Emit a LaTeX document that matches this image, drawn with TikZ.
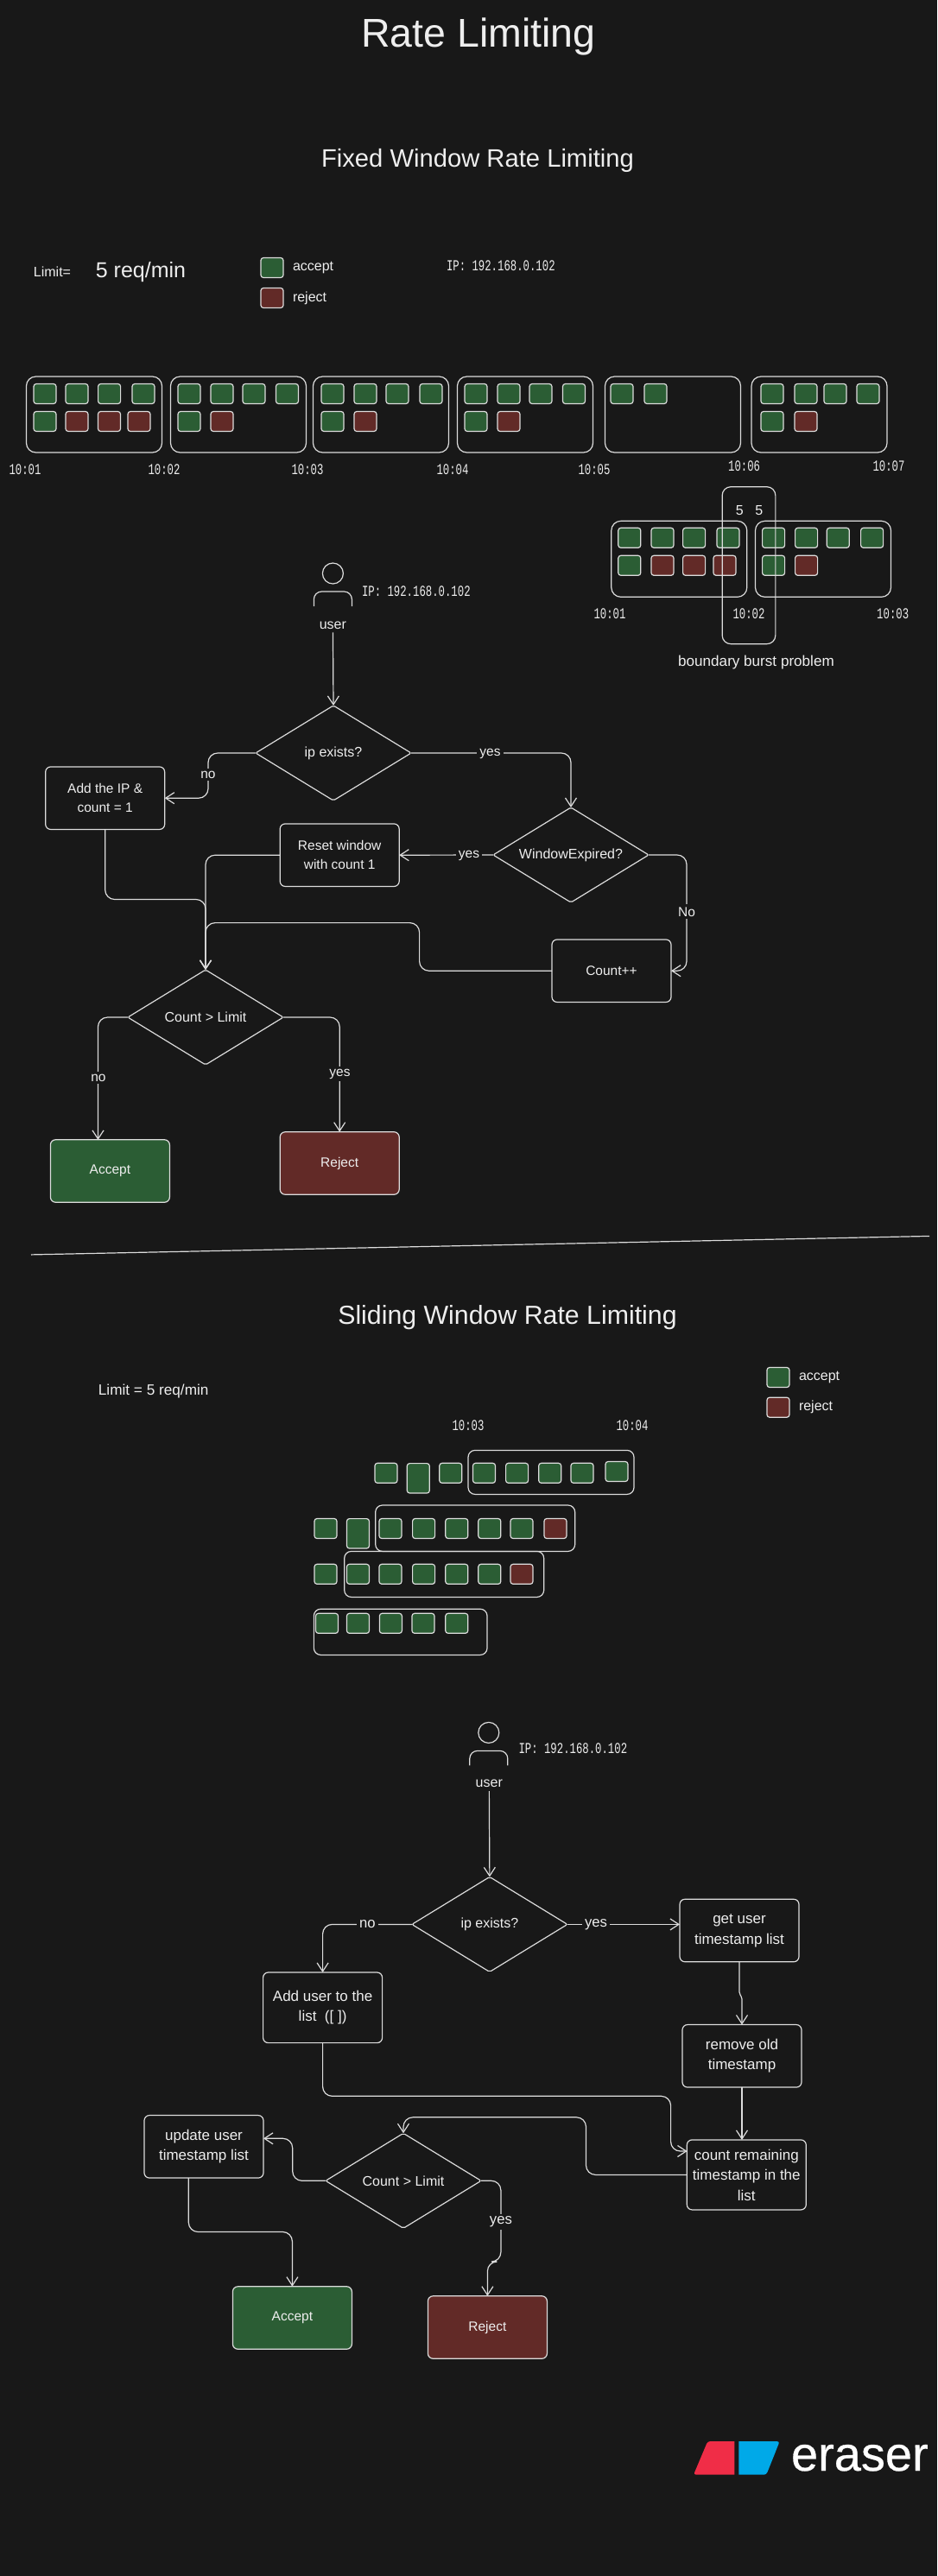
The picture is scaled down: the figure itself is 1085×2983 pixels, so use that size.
\documentclass[tikz,border=0pt]{standalone}
\usepackage{fontspec}
\setmainfont{Liberation Sans}
\newfontfamily\timefont[FakeStretch=0.7]{Liberation Mono}
\newfontfamily\logofont[FakeBold=0.5]{Liberation Sans}
\usetikzlibrary{shapes.geometric, arrows.meta, positioning}
\definecolor{bgdark}{HTML}{181818}
\definecolor{lineclr}{HTML}{DCDCDC}
\definecolor{textclr}{HTML}{EEEEEE}
\definecolor{okgreen}{HTML}{2B5D34}
\definecolor{nored}{HTML}{622A27}
\definecolor{logored}{HTML}{F02D47}
\definecolor{logoblue}{HTML}{00A9E8}

\begin{document}
\begin{tikzpicture}[
    x=1pt, y=-1pt,
    line width=1.2pt,
    every node/.style={text=textclr, inner sep=0pt, outer sep=0pt},
    reqbox/.style={rectangle, draw=lineclr, minimum width=26pt, minimum height=23pt, rounded corners=3pt},
    reqok/.style={reqbox, fill=okgreen},
    reqno/.style={reqbox, fill=nored},
    frame/.style={rectangle, draw=lineclr, rounded corners=11pt, minimum width=157pt, minimum height=88pt},
    slidebox/.style={rectangle, draw=lineclr, rounded corners=8pt},
    flowbox/.style={rectangle, draw=lineclr, rounded corners=6pt, align=center, minimum width=138pt, minimum height=72.5pt, font=\fontsize{15.5}{22}\selectfont},
    bigbox/.style={flowbox, font=\fontsize{17}{23.5}\selectfont},
    choice/.style={diamond, draw=lineclr, rounded corners=2pt, aspect=1.6, minimum width=180pt, minimum height=110pt, font=\fontsize{16}{20}\selectfont},
    arrow/.style={draw=lineclr, rounded corners=11pt, -{Straight Barb[length=10pt,width=13pt]}},
    edgetext/.style={fill=bgdark, inner sep=3pt, font=\fontsize{15.5}{18}\selectfont},
    bigtext/.style={edgetext, font=\fontsize{16.7}{18}\selectfont},
    plain/.style={font=\fontsize{16}{20}\selectfont},
    timetext/.style={font=\timefont\fontsize{17.6}{20}\selectfont},
    personicon/.pic={
        \node[circle, draw=lineclr, minimum size=24pt] (head) at (0,0) {};
        \draw[lineclr, rounded corners=9pt] (-22,38) -- (-22,21) -- (22,21) -- (22,38);
    }
]
\fill[bgdark] (0,0) rectangle (1085,2983);
\useasboundingbox (0,0) rectangle (1085,2983);

% Headings
\node[font=\fontsize{46.5}{50}\selectfont] (title) at (554,42) {Rate Limiting};
\node[font=\fontsize{29.2}{32}\selectfont] (fixedhead) at (553,186) {Fixed Window Rate Limiting};
\node[font=\fontsize{30.3}{32}\selectfont] (slidehead) at (587.5,1526) {Sliding Window Rate Limiting};

% Legend of the fixed window
\node[plain] (limitA) at (60.5,315) {Limit=};
\node[font=\fontsize{25}{28}\selectfont] (limitval) at (163,315.5) {5 req/min};
\node[reqok] (legokA) at (315,310) {};
\node[reqno] (legnoA) at (315,345) {};
\node[plain, right=11pt of legokA] (legoktextA) {accept};
\node[plain, right=11pt of legnoA] (legnotextA) {reject};
\node[timetext, anchor=west] (ipfixed) at (517,308) {IP: 192.168.0.102};

% Fixed windows
\foreach \wx [count=\n] in {109,276,441,608,779,948.5}
    \node[frame] (win\n) at (\wx,480) {};
\foreach \cx [count=\n] in {52,89,126.6,166,219,257,294,332.5,385,423,460,499,551,589,626,664.5,720,759,894,933,967,1005}
    \node[reqok] (top\n) at (\cx,456) {};
\foreach \cx [count=\n] in {52,219,385,551,894}
    \node[reqok] (lowok\n) at (\cx,488) {};
\foreach \cx [count=\n] in {89,126.5,161,257,423,589,933}
    \node[reqno] (lowno\n) at (\cx,488) {};
\foreach \cx/\cy/\tm [count=\n] in {29/543.5/10:01,190/543.5/10:02,356/543.5/10:03,524/543.5/10:04,688/543.5/10:05,861.6/539.6/10:06,1029/539.6/10:07}
    \node[timetext] (tick\n) at (\cx,\cy) {\tm};

% Boundary burst
\node[frame] (burstL) at (786.3,647.3) {};
\node[frame] (burstR) at (953,647.3) {};
\foreach \cx [count=\n] in {728.8,767,803.6,843,895.6,933.6,970.3,1009.6}
    \node[reqok] (bursttop\n) at (\cx,622.8) {};
\foreach \cx/\cc [count=\n] in {728.8/okgreen,767/nored,803.6/nored,839/nored,895.6/okgreen,933.6/nored}
    \node[reqbox, fill=\cc] (burstlow\n) at (\cx,654.8) {};
\node[rectangle, draw=lineclr, rounded corners=10pt, minimum width=61.7pt, minimum height=182pt] (burstmid) at (867,654.7) {};
\node[plain] (burstfive1) at (856.3,591) {5};
\node[plain] (burstfive2) at (878.7,591) {5};
\node[timetext] (bursttick1) at (706,710.7) {10:01};
\node[timetext] (bursttick2) at (867,710.7) {10:02};
\node[timetext] (bursttick3) at (1033.7,710.7) {10:03};
\node[font=\fontsize{17.1}{20}\selectfont] (burstname) at (875.5,767) {boundary burst problem};

% Fixed window flow
\pic (personA) at (385.4,664) {personicon};
\node[plain, inner sep=4pt] (userA) at (385.4,724) {user};
\node[timetext, anchor=west] (ipA) at (419,685) {IP: 192.168.0.102};
\node[choice] (existsA) at (386,872) {ip exists?};
\node[flowbox] (addA) at (121.7,924.2) {Add the IP \&\\count = 1};
\node[choice] (windowA) at (661,990) {WindowExpired?};
\node[flowbox] (resetA) at (393.2,990.2) {Reset window\\with count 1};
\node[flowbox] (countA) at (708,1124.2) {Count++};
\node[choice] (checkA) at (238,1178) {Count > Limit};
\node[flowbox, fill=okgreen] (acceptA) at (127.4,1356) {Accept};
\node[flowbox, fill=nored] (rejectA) at (393.2,1347) {Reject};

\coordinate (noturnA) at (241,924.2);
\coordinate (noturnB) at (795,1124.2);
\coordinate (addturnA) at (121.7,1041.5);
\coordinate (backturnA) at (485.6,1068.6);
\coordinate (accinA) at (113.5,1320);

\draw[arrow] (userA) -- (existsA.north);
\draw[arrow] (existsA.west) -| (noturnA) -- (addA.east);
\draw[arrow] (existsA.east) -| (windowA.north);
\draw[arrow] (windowA.west) -- (resetA.east);
\draw[arrow] (windowA.east) -| (noturnB) -- (countA.east);
\draw[arrow] (resetA.west) -| (checkA.north);
\draw[arrow] (addA.south) -- (addturnA) -| (checkA.north);
\draw[arrow] (countA.west) -| (backturnA) -| (checkA.north);
\draw[arrow] (checkA.west) -| (accinA);
\draw[arrow] (checkA.east) -| (rejectA.north);

\node[edgetext] (noA) at (241,897) {no};
\node[edgetext] (yesA) at (567.5,872.5) {yes};
\node[edgetext] (yesB) at (543,990.5) {yes};
\node[edgetext] (noB) at (795,1055.8) {No};
\node[edgetext] (noC) at (114,1248) {no};
\node[edgetext] (yesC) at (393.5,1243.6) {yes};

% Divider
\coordinate (divL) at (36,1452.9);
\coordinate (divR) at (1076,1431.4);
\draw[lineclr] (divL) -- (divR);

% Legend of the sliding window
\node[font=\fontsize{17.2}{20}\selectfont] (limitB) at (177.7,1611) {Limit = 5 req/min};
\node[reqok] (legokB) at (901,1595) {};
\node[reqno] (legnoB) at (901,1629.7) {};
\node[plain, right=11pt of legokB] (legoktextB) {accept};
\node[plain, right=11pt of legnoB] (legnotextB) {reject};
\node[timetext] (tickB1) at (542,1650.7) {10:03};
\node[timetext] (tickB2) at (732,1650.7) {10:04};

% Sliding windows
\node[slidebox, minimum width=192pt, minimum height=51pt] (slideA) at (638,1704.9) {};
\node[slidebox, minimum width=231pt, minimum height=53.4pt] (slideB) at (550.2,1769.7) {};
\node[slidebox, minimum width=231pt, minimum height=53pt] (slideC) at (514.2,1822.9) {};
\node[slidebox, minimum width=200.7pt, minimum height=53.2pt] (slideD) at (463.7,1889.8) {};
\foreach \cx/\cy/\cc [count=\n] in {447/1705.8/okgreen,521.8/1705.8/okgreen,560.5/1705.8/okgreen,598.6/1705.8/okgreen,636.7/1705.8/okgreen,674/1705.8/okgreen,714/1704/okgreen,
    377/1770/okgreen,452/1770/okgreen,490.6/1770/okgreen,528.8/1770/okgreen,566.8/1770/okgreen,604/1770/okgreen,643/1770/nored,
    377/1822.8/okgreen,414.5/1822.8/okgreen,452/1822.8/okgreen,490.6/1822.8/okgreen,528.8/1822.8/okgreen,566.8/1822.8/okgreen,604/1822.8/nored,
    378.5/1879.8/okgreen,414.5/1879.8/okgreen,452.4/1879.8/okgreen,490/1879.8/okgreen,528.8/1879.8/okgreen}
    \node[reqbox, fill=\cc] (slot\n) at (\cx,\cy) {};
\node[reqok, minimum height=34.4pt] (tallA) at (484.3,1711.8) {};
\node[reqok, minimum height=34.4pt] (tallB) at (414.5,1775.8) {};

% Sliding window flow
\pic (personB) at (565.8,2006.4) {personicon};
\node[plain, inner sep=4pt] (userB) at (566.3,2065.6) {user};
\node[timetext, anchor=west] (ipB) at (600.5,2024.8) {IP: 192.168.0.102};
\node[choice] (existsB) at (566.9,2228.4) {ip exists?};
\node[bigbox] (getB) at (856,2235.5) {get user\\timestamp list};
\node[bigbox, minimum height=81.6pt] (addB) at (373.6,2324.8) {Add user to the\\list\ \ ([ ])};
\node[bigbox] (removeB) at (859,2380.8) {remove old\\timestamp};
\node[bigbox, minimum height=81pt] (countB) at (864.3,2518.4) {count remaining\\timestamp in the\\list};
\node[choice] (checkB) at (467,2525.3) {Count > Limit};
\node[bigbox] (updateB) at (236,2485.8) {update user\\timestamp list};
\node[flowbox, fill=okgreen] (acceptB) at (338.4,2684) {Accept};
\node[flowbox, fill=nored] (rejectB) at (564.4,2695) {Reject};

\coordinate (addturnB) at (776.6,2427.3);
\coordinate (countinB) at (795.6,2491);
\coordinate (backturnB) at (678.5,2451.8);
\coordinate (updturnB) at (338.7,2476.3);
\coordinate (updinB) at (305,2476.3);
\coordinate (updoutB) at (218.3,2522.2);
\coordinate (accturnB) at (338.4,2584.5);
\coordinate (yesturnB) at (579.9,2619);

\draw[arrow] (userB) -- (existsB.north);
\draw[arrow] (existsB.east) -- (existsB.east -| getB.west);
\draw[arrow] (existsB.west) -| (addB.north);
\draw[arrow, rounded corners=2pt] (getB.south) -- ++(0,37) -- ++(3,4) -- (removeB.north);
\draw[arrow] (removeB.south) -- (removeB.south |- countB.north);
\draw[arrow] (addB.south) |- (addturnB) |- (countinB);
\draw[arrow] (countB.west) -| (backturnB) -| (checkB.north);
\draw[arrow] (checkB.west) -| (updturnB) -- (updinB);
\draw[arrow] (updoutB) |- (accturnB) -- (acceptB.north);
\draw[arrow] (checkB.east) -| (yesturnB) -| (rejectB.north);

\node[bigtext] (yesD) at (690,2229) {yes};
\node[bigtext] (noD) at (425.4,2228.4) {no};
\node[bigtext] (yesE) at (579.9,2573.2) {yes};

% Logo
\fill[logored] (850.3,2827) [rounded corners=3pt] -- (819.3,2827) -- (803,2865.7) [sharp corners] -- (850.3,2865.7) -- cycle;
\fill[logoblue] (855.3,2827) [rounded corners=3pt] -- (902.7,2827) -- (887.3,2865.7) [sharp corners] -- (855.3,2865.7) -- cycle;
\node[anchor=base west, text=white, font=\logofont\fontsize{56}{60}\selectfont] (logotext) at (916,2861) {eraser};

\end{tikzpicture}
\end{document}
